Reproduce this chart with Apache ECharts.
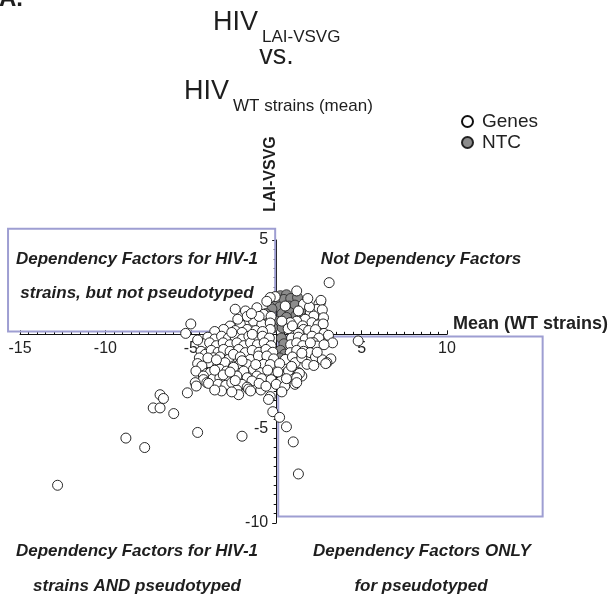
<!DOCTYPE html>
<html>
<head>
<meta charset="utf-8">
<script src="https://cdn.jsdelivr.net/npm/echarts@6/dist/echarts.min.js"></script>
<style>
html, body { margin: 0; padding: 0; background: #fff; }
#main { width: 610px; height: 598px; }
</style>
</head>
<body>
<div id="main"></div>
<script>
// axis ticks (labels at every 5, 0 hidden)
var xTicks = [-15, -10, -5, 0, 5, 10];
var yTicks = [-10, -5, 0, 5];

// non targeting controls [mean WT strains, LAI-VSVG]
var ntcPoints = [
  [0.25, 2.05], [0.6, 2.1], [0.05, 1.8], [0.45, 1.85], [0.85, 1.9], [1.25, 1.95],
  [0.2, 1.45], [0.75, 1.5], [1.1, 1.55], [1.5, 1.3], [-0.25, 1.35], [0.35, 1.1],
  [0.8, 1.15], [1.15, 1.0], [-0.5, 0.85], [0.0, 0.7], [0.6, 0.9], [-0.2, 0.35],
  [0.35, 0.35], [0.3, -0.2], [0.45, -0.5], [0.25, -0.85], [0.5, -1.05], [0.2, -1.25], [-0.6, 1.1]
];

// genes, upper part of the cloud
var genesUpper = [
  [3.1, 2.74], [1.2, 2.3], [-0.06, 2.0], [-0.35, 1.95], [-0.55, 1.75], [2.58, 1.68], [2.5, 1.62],
  [2.62, 1.8], [1.6, 1.6], [0.53, 1.5], [1.3, 1.24], [2.38, 1.32], [2.7, 1.3], [2.0, 1.15],
  [2.2, 0.97], [2.77, 0.88], [1.7, 0.8], [1.2, 0.7], [0.82, 0.62], [0.33, 0.7], [2.09, 0.62],
  [2.45, 0.5], [2.75, 0.55], [-2.4, 1.33], [-1.8, 1.24], [-1.13, 1.41], [-0.74, 1.06], [-1.33, 0.7],
  [-0.84, 0.53], [-2.1, 0.53], [-2.7, 0.44], [-1.7, 0.95], [-1.0, 0.95], [-0.3, 0.95], [-0.35, 0.6],
  [1.55, 0.45], [1.95, 1.45], [-5.0, 0.55], [1.85, 1.9], [-1.45, 1.1], [-2.25, 0.8]
];

// genes around the x axis
var genesAxis = [
  [-3.08, 0.26], [-1.7, 0.26], [-0.35, 0.26], [1.6, 0.26], [1.0, 0.17], [-3.6, 0.15], [-2.4, 0.2],
  [-2.0, 0.1], [-1.2, 0.2], [-0.8, 0.15], [0.7, 0.3], [1.3, 0.05], [1.9, 0.2], [2.3, 0.25],
  [2.8, 0.05], [3.06, -0.05], [-5.3, 0.05], [-4.0, -0.15], [-3.6, -0.25], [-3.2, -0.1], [-2.8, -0.2],
  [-2.4, -0.15], [-2.0, -0.25], [-1.6, -0.1], [-1.2, -0.25], [-0.8, -0.1], [-0.4, -0.2], [0.9, -0.2],
  [1.3, -0.15], [1.7, -0.25], [2.1, -0.1], [2.5, -0.2], [3.3, -0.45], [4.8, -0.35], [-4.3, -0.5],
  [-3.9, -0.45], [-3.5, -0.6], [-3.1, -0.45], [-2.7, -0.55], [-2.3, -0.45], [-1.9, -0.6], [-1.5, -0.45],
  [-1.1, -0.55], [-0.7, -0.45], [-0.3, -0.6], [0.85, -0.55], [1.2, -0.45], [1.55, -0.6], [2.18, -0.44],
  [2.38, -0.62], [2.8, -0.55], [-2.6, 0.1], [-1.4, 0.0], [0.95, 0.45], [2.0, -0.45], [-4.6, -0.3]
];

// genes, lower part of the cloud
var genesLower = [
  [-4.4, -0.9], [-4.15, -1.06], [-3.8, -0.85], [-3.4, -0.95], [-3.08, -0.8], [-2.7, -0.9], [-2.2, -0.8],
  [-1.81, -0.97], [-1.4, -0.85], [-1.0, -0.95], [-0.6, -0.8], [-0.2, -0.95], [0.82, -0.97], [1.2, -0.85],
  [1.6, -0.9], [1.99, -0.97], [-4.5, -1.25], [-3.67, -1.24], [-3.3, -1.2], [-2.79, -1.33], [-2.5, -1.06],
  [-2.1, -1.2], [-1.52, -1.33], [-1.04, -1.15], [-0.55, -1.15], [-0.15, -1.3], [0.53, -1.33], [0.95, -1.2],
  [1.11, -1.5], [1.5, -1.25], [2.3, -1.2], [2.7, -1.35], [3.2, -1.3], [-4.6, -1.55], [-3.96, -1.5],
  [-4.35, -1.68], [-3.4, -1.6], [-3.0, -1.5], [-2.5, -1.68], [-2.1, -1.55], [-1.7, -1.6], [-1.33, -1.85],
  [-0.74, -1.59], [-0.35, -1.6], [0.2, -1.55], [1.8, -1.59], [2.97, -1.5], [2.9, -1.55], [-4.7, -1.95],
  [-4.06, -2.07], [-3.86, -2.03], [-3.3, -1.85], [-2.9, -1.95], [-2.5, -1.75], [-1.9, -1.95], [-0.94, -2.03],
  [-0.4, -2.1], [0.63, -2.03], [0.72, -1.94], [1.3, -2.03], [1.5, -2.21], [1.36, -2.07], [-4.26, -2.21],
  [-4.26, -2.4], [-3.7, -2.35], [-3.3, -2.3], [-2.9, -2.4], [-2.3, -2.21], [-1.7, -2.3], [-1.13, -2.21],
  [-0.85, -2.35], [-0.3, -2.4], [0.3, -2.45], [1.0, -2.38], [1.2, -2.3], [-4.74, -2.56], [-4.68, -2.74],
  [-4.06, -2.56], [-3.96, -2.6], [-3.4, -2.65], [-2.95, -2.7], [-2.6, -2.56], [-2.0, -2.65], [-1.42, -2.47],
  [-1.7, -2.8], [0.0, -2.65], [0.5, -2.75], [1.1, -2.65], [1.2, -2.56], [-5.2, -3.1], [-2.3, -2.95],
  [-2.2, -3.2], [-1.62, -2.9], [-1.5, -3.0], [-3.2, -3.0], [-0.9, -2.95], [-2.6, -3.05],
  [-3.6, -1.9], [-3.1, -2.15], [-2.7, -2.0], [-2.0, -1.4], [-1.2, -1.6], [-0.5, -1.9], [0.1, -2.0],
  [0.9, -1.7], [1.5, -1.0], [2.4, -0.95], [-4.0, -1.25], [-3.5, -1.35], [-2.4, -2.45], [-1.0, -2.6],
  [-0.6, -2.75], [0.6, -2.35], [2.2, -1.65], [-3.6, -2.95]
];

// isolated genes
var genesOutliers = [
  [-12.8, -8.0], [-8.8, -5.5], [-7.7, -6.0], [-4.6, -5.2], [-2.0, -5.4], [-7.2, -3.9], [-6.8, -3.9],
  [-6.8, -3.2], [-6.6, -3.4], [-6.0, -4.2], [-0.35, -3.3], [-0.45, -3.45], [-0.2, -4.1], [0.33, -3.05],
  [0.2, -4.4], [0.6, -4.9], [1.0, -5.7], [1.3, -7.4]
];

// quadrant boxes, data units [corner, opposite corner]
var boxTopLeft = [[-15.7, 5.6], [-0.06, 0.15]];
var boxBottomRight = [[0.12, -0.12], [15.6, -9.65]];

var FONT = "'Liberation Sans', Arial, Helvetica, sans-serif";
var chart = echarts.init(document.getElementById('main'));

// grid box in pixels
var G = { left: 20, right: 163, top: 240, bottom: 75 };
var plotW = 610 - G.left - G.right;
var plotH = 598 - G.top - G.bottom;
// shift the axes so that they cross at (0, 0)
var xZeroOffset = -plotH * (0 - yTicks[0]) / (yTicks[yTicks.length - 1] - yTicks[0]);
var yZeroOffset = -plotW * (0 - xTicks[0]) / (xTicks[xTicks.length - 1] - xTicks[0]);

function tickLabel(v) {
  return v === 0 ? '' : String(v);
}

var option = {
  animation: false,
  backgroundColor: '#fff',
  textStyle: { fontFamily: FONT },
  grid: { left: G.left, right: G.right, top: G.top, bottom: G.bottom, outerBoundsMode: 'none' },
  legend: {
    left: 461, top: 112, orient: 'vertical', padding: 0,
    itemWidth: 11, itemHeight: 11, itemGap: 2,
    data: ['Genes', 'NTC'],
    textStyle: { fontSize: 19, color: '#222', fontFamily: FONT, padding: [0, 0, 0, 4] }
  },
  xAxis: {
    type: 'value', position: 'bottom', offset: xZeroOffset,
    min: xTicks[0], max: xTicks[xTicks.length - 1], interval: 5,
    name: 'Mean (WT strains)', nameLocation: 'end', nameGap: 6,
    nameTextStyle: { fontSize: 18, fontWeight: 'bold', color: '#222', fontFamily: FONT,
      verticalAlign: 'bottom', padding: [0, 0, 1, 0] },
    axisLine: { onZero: false, lineStyle: { color: '#111', width: 1 } },
    axisTick: { inside: true, length: 4, lineStyle: { color: '#111' } },
    minorTick: { show: true, splitNumber: 10, length: 2.5, lineStyle: { color: '#111' } },
    axisLabel: { formatter: tickLabel, fontSize: 16, color: '#222', margin: 6, fontFamily: FONT },
    splitLine: { show: false }
  },
  yAxis: {
    type: 'value', position: 'left', offset: yZeroOffset,
    min: yTicks[0], max: yTicks[yTicks.length - 1], interval: 5,
    axisLine: { onZero: false, lineStyle: { color: '#111', width: 1 } },
    axisTick: { inside: false, length: 4, lineStyle: { color: '#111' } },
    minorTick: { show: true, splitNumber: 10, length: 2.5, lineStyle: { color: '#111' } },
    axisLabel: { formatter: tickLabel, fontSize: 16, color: '#222', margin: 8, fontFamily: FONT },
    splitLine: { show: false }
  },
  series: [
    {
      name: 'NTC', type: 'scatter', symbol: 'circle', symbolSize: 10, z: 3,
      itemStyle: { color: '#8c8c8c', borderColor: '#222', borderWidth: 0.8, opacity: 1 },
      data: ntcPoints
    },
    {
      name: 'Genes', type: 'scatter', symbol: 'circle', symbolSize: 10, z: 4,
      itemStyle: { color: '#fff', borderColor: '#111', borderWidth: 0.9, opacity: 1 },
      data: genesUpper.concat(genesAxis, genesLower, genesOutliers)
    }
  ]
};
chart.setOption(option);

function boxRect(b) {
  var p0 = chart.convertToPixel({ gridIndex: 0 }, b[0]);
  var p1 = chart.convertToPixel({ gridIndex: 0 }, b[1]);
  return {
    x: Math.min(p0[0], p1[0]), y: Math.min(p0[1], p1[1]),
    width: Math.abs(p1[0] - p0[0]), height: Math.abs(p1[1] - p0[1])
  };
}

function txt(text, x, y, size, weight, style, align, extra) {
  var el = {
    type: 'text', x: x, y: y, z: 5,
    style: {
      text: text, fill: '#1e1e1e',
      font: (style || 'normal') + ' ' + (weight || 'normal') + ' ' + size + 'px ' + FONT,
      textAlign: align || 'left', textVerticalAlign: 'middle',
      align: align || 'left', verticalAlign: 'middle'
    }
  };
  if (extra) { for (var k in extra) el[k] = extra[k]; }
  return el;
}

var boxStyle = { fill: 'none', stroke: '#9e9ed2', lineWidth: 2 };
var graphics = [
  { type: 'rect', z: 1, shape: boxRect(boxTopLeft), style: boxStyle },
  { type: 'rect', z: 1, shape: boxRect(boxBottomRight), style: boxStyle },
  // panel letter
  txt('A.', -1, -1, 24, 'bold'),
  // title
  txt('HIV', 213, 23, 27),
  txt('LAI-VSVG', 262, 37.5, 17),
  txt('vs.', 276.5, 57, 27, 'normal', 'normal', 'center'),
  txt('HIV', 184, 92, 27),
  txt('WT strains (mean)', 233, 106, 17),
  // y axis name
  txt('LAI-VSVG', 271, 174, 16, 'bold', 'normal', 'center', { rotation: Math.PI / 2 }),
  // quadrant labels
  txt('Dependency Factors for HIV-1', 137, 259, 17, 'bold', 'italic', 'center'),
  txt('strains, but not pseudotyped', 137, 293, 17, 'bold', 'italic', 'center'),
  txt('Not Dependency Factors', 421, 259, 17, 'bold', 'italic', 'center'),
  txt('Dependency Factors for HIV-1', 137, 551, 17, 'bold', 'italic', 'center'),
  txt('strains AND pseudotyped', 137, 586, 17, 'bold', 'italic', 'center'),
  txt('Dependency Factors ONLY', 422, 551, 17, 'bold', 'italic', 'center'),
  txt('for pseudotyped', 421, 586, 17, 'bold', 'italic', 'center')
];
chart.setOption({ graphic: graphics });
</script>
</body>
</html>
